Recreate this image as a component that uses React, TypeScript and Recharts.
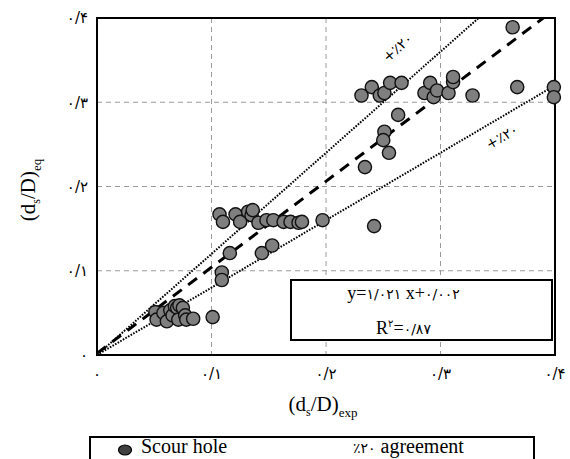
import React from "react";
import {
  CartesianGrid,
  ReferenceArea,
  ReferenceDot,
  ReferenceLine,
  Scatter,
  ScatterChart,
  XAxis,
  YAxis,
} from "recharts";

// measured (d_s/D)_exp vs equation (d_s/D)_eq
const expValues = [
  0.051, 0.052, 0.058, 0.061, 0.064, 0.066, 0.068, 0.07, 0.071, 0.072, 0.075, 0.077, 0.078, 0.084, 0.101,
  0.107, 0.11, 0.121, 0.125, 0.132, 0.135, 0.136, 0.141, 0.148, 0.154, 0.163, 0.169, 0.176, 0.179, 0.197,
  0.116, 0.109, 0.109, 0.144, 0.153,
  0.231, 0.24, 0.247, 0.251, 0.256, 0.266, 0.286, 0.291, 0.294, 0.297, 0.307, 0.311, 0.311, 0.328, 0.367,
  0.363, 0.399, 0.399, 0.263, 0.251, 0.25, 0.255, 0.234, 0.242,
];
const eqValues = [
  0.051, 0.042, 0.05, 0.04, 0.053, 0.047, 0.058, 0.056, 0.042, 0.059, 0.056, 0.047, 0.042, 0.043, 0.045,
  0.167, 0.158, 0.167, 0.158, 0.17, 0.166, 0.172, 0.157, 0.16, 0.16, 0.158, 0.158, 0.157, 0.158, 0.16,
  0.121, 0.098, 0.089, 0.121, 0.13,
  0.308, 0.318, 0.308, 0.311, 0.323, 0.323, 0.311, 0.323, 0.306, 0.314, 0.311, 0.324, 0.33, 0.308, 0.318,
  0.389, 0.318, 0.306, 0.285, 0.265, 0.255, 0.24, 0.223, 0.153,
];
const axisTicks = [0, 0.1, 0.2, 0.3, 0.4];
const fitSlope = 1.021;
const fitIntercept = 0.002;
const bandFactors = [1.2, 0.8];
const bandLabels = [
  { x: 0.263, y: 0.364, factor: 1.2, text: "+٪۲۰" },
  { x: 0.354, y: 0.258, factor: 0.8, text: "+٪۲۰" },
];

const chartData = expValues.map((x, i) => ({ x, y: eqValues[i] }));

const W = 570;
const H = 400;
const PLOT_W = 458;
const PLOT_H = 337;
const FA_DIGITS = "۰۱۲۳۴۵۶۷۸۹";
const SERIF = '"Liberation Serif", "DejaVu Serif", serif';
const DIGIT_FONT = '"DejaVu Sans", sans-serif';

function toPersian(s: string) {
  return s.replace(/\d/g, (d) => FA_DIGITS[Number(d)]).replace(/\./g, "/");
}

function formatTick(v: number) {
  return v === 0 ? toPersian("0") : toPersian(v.toFixed(1));
}

function Marker(props: any) {
  const { cx, cy } = props;
  if (cx == null || cy == null) return null;
  return <circle cx={cx} cy={cy} r={6.6} fill="#7f7f7f" stroke="#111" strokeWidth={1.4} />;
}

export default function App() {
  const xMax = axisTicks[axisTicks.length - 1];
  return (
    <div style={{ position: "absolute", left: 0, top: 0, width: W, height: 459, background: "#fff", overflow: "hidden" }}>
      <ScatterChart width={W} height={H} margin={{ top: 18, right: 15, left: 0, bottom: 0 }}>
        <CartesianGrid stroke="#9a9a9a" strokeDasharray="5 4" strokeWidth={1} />
        <XAxis
          type="number"
          dataKey="x"
          domain={[0, xMax]}
          ticks={axisTicks}
          height={45}
          tickLine={false}
          tickSize={0}
          tickMargin={13}
          axisLine={{ stroke: "#000", strokeWidth: 2 }}
          tick={{ fill: "#000", fontSize: 15, fontFamily: DIGIT_FONT }}
          tickFormatter={formatTick}
        />
        <YAxis
          type="number"
          dataKey="y"
          domain={[0, xMax]}
          ticks={axisTicks}
          width={97}
          tickLine={false}
          tickSize={0}
          tickMargin={9}
          axisLine={{ stroke: "#000", strokeWidth: 2 }}
          tick={{ fill: "#000", fontSize: 15, fontFamily: DIGIT_FONT }}
          tickFormatter={formatTick}
        />
        <ReferenceArea x1={0} x2={xMax} y1={0} y2={xMax} fill="none" stroke="#000" strokeWidth={2} ifOverflow="visible" />
        {bandFactors.map((f) => (
          <ReferenceLine
            key={f}
            segment={[
              { x: 0, y: 0 },
              { x: xMax, y: xMax * f },
            ]}
            ifOverflow="hidden"
            stroke="#000"
            strokeWidth={2}
            strokeDasharray="1.6 1.4"
          />
        ))}
        <ReferenceLine
          segment={[
            { x: 0, y: fitIntercept },
            { x: xMax, y: xMax * fitSlope + fitIntercept },
          ]}
          ifOverflow="hidden"
          stroke="#000"
          strokeWidth={3}
          strokeDasharray="11 8"
        />
        {bandLabels.map((b) => (
          <ReferenceDot
            key={b.text + b.factor}
            x={b.x}
            y={b.y}
            r={0}
            shape={(p: any) => {
              const angle = (Math.atan((b.factor * PLOT_H) / PLOT_W) * 180) / Math.PI;
              return (
                <text
                  x={p.cx}
                  y={p.cy}
                  transform={`rotate(${-angle} ${p.cx} ${p.cy})`}
                  textAnchor="middle"
                  dominantBaseline="middle"
                  fontSize={14}
                  fontFamily={DIGIT_FONT}
                  fill="#000"
                >
                  {b.text}
                </text>
              );
            }}
          />
        ))}
        <Scatter data={chartData} shape={Marker} isAnimationActive={false} />
      </ScatterChart>

      {/* equation box */}
      <div
        style={{
          position: "absolute",
          left: 290,
          top: 279,
          width: 259,
          height: 58,
          border: "2px solid #000",
          background: "#fff",
          fontFamily: SERIF,
          fontSize: 18,
          textAlign: "center",
          lineHeight: "29px",
          color: "#000",
        }}
      >
        <div style={{ marginLeft: -36, marginTop: -2 }}>
          y=<span style={{ fontFamily: DIGIT_FONT, fontSize: 14 }}>۱/۰۲۱</span> x+
          <span style={{ fontFamily: DIGIT_FONT, fontSize: 14 }}>۰/۰۰۲</span>
        </div>
        <div style={{ marginLeft: -36 }}>
          R<sup style={{ fontFamily: DIGIT_FONT, fontSize: 10 }}>۲</sup>=
          <span style={{ fontFamily: DIGIT_FONT, fontSize: 14 }}>۰/۸۷</span>
        </div>
      </div>

      <svg width={W} height={459} style={{ position: "absolute", left: 0, top: 0, pointerEvents: "none" }}>
        <text x={323} y={411} textAnchor="middle" fontFamily={SERIF} fontSize={21} fill="#000">
          (d<tspan fontSize={12} dy={5}>s</tspan>
          <tspan dy={-5}>/D)</tspan>
          <tspan fontSize={13} dy={6}>exp</tspan>
        </text>
        <text
          x={0}
          y={0}
          transform="translate(35 190) rotate(-90)"
          textAnchor="middle"
          fontFamily={SERIF}
          fontSize={21}
          fill="#000"
        >
          (d<tspan fontSize={12} dy={5}>s</tspan>
          <tspan dy={-5}>/D)</tspan>
          <tspan fontSize={13} dy={6}>eq</tspan>
        </text>
      </svg>

      {/* legend */}
      <div
        style={{
          position: "absolute",
          left: 89,
          top: 436,
          width: 442,
          height: 40,
          border: "2px solid #000",
          background: "#fff",
          fontFamily: SERIF,
          fontSize: 20,
          color: "#000",
        }}
      >
        <svg width={16} height={12} style={{ position: "absolute", left: 26, top: 6 }}>
          <ellipse cx={8} cy={6} rx={6.5} ry={5} fill="#404040" stroke="#000" strokeWidth={1.2} />
        </svg>
        <span style={{ position: "absolute", left: 50, top: -3, lineHeight: "22px" }}>Scour hole</span>
        <span style={{ position: "absolute", left: 262, top: -3, lineHeight: "22px" }}>
          <span style={{ fontFamily: DIGIT_FONT, fontSize: 14 }}>٪۲۰</span> agreement
        </span>
      </div>
    </div>
  );
}
